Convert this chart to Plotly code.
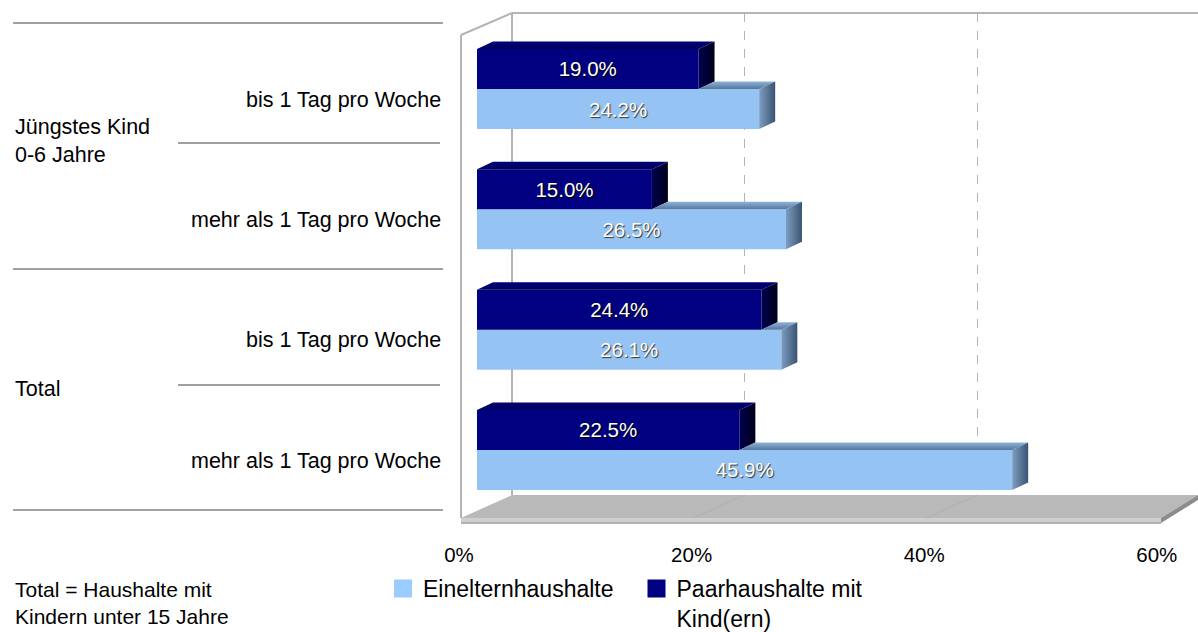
import plotly.graph_objects as go

# ---------------- data ----------------
groups = ["Jüngstes Kind<br>0-6 Jahre", "Total"]
group_members = [[0, 1], [2, 3]]
categories = ["bis 1 Tag pro Woche", "mehr als 1 Tag pro Woche",
              "bis 1 Tag pro Woche", "mehr als 1 Tag pro Woche"]
einelternhaushalte = [24.2, 26.5, 26.1, 45.9]
paarhaushalte = [19.0, 15.0, 24.4, 22.5]
series_names = ["Einelternhaushalte", "Paarhaushalte mit<br>Kind(ern)"]
tick_vals = [0, 20, 40, 60]
tick_text = ["0%", "20%", "40%", "60%"]
grid_vals = [20, 40]
footnote = "Total = Haushalte mit<br>Kindern unter 15 Jahre"

# ---------------- styling / geometry ----------------
W, H = 1198, 632
FONT = "Liberation Sans, Arial, sans-serif"
LIGHT = "#95c4f4"
DARK = "#000080"
PX_PER = 11.66          # px per percent on the front plane
ROW = 120.33            # px per category row


def fx(p):
    return p / W


def fy(p):
    return 1 - p / H


front_x0 = 477
bar_top_px = 89 - 0.5 * ROW
bar_bot_px = 89 + 3.5 * ROW
BW = 40 / ROW
DX = 16 / PX_PER
DY = 7.5 / ROW

ypos = list(range(len(categories)))
fig = go.Figure()

# subplot 1: back wall gridlines (drawn first, so it lies behind the bars)
fig.add_trace(go.Scatter(x=[None], y=[None], xaxis="x", yaxis="y",
                         showlegend=False, hoverinfo="skip"))
# subplot 3: tick labels on the floor edge
fig.add_trace(go.Scatter(x=[None], y=[None], xaxis="x3", yaxis="y3",
                         showlegend=False, hoverinfo="skip"))

# front faces of the bars
fig.add_trace(go.Bar(
    orientation="h", x=einelternhaushalte, y=ypos, base=0, width=BW, offset=0,
    marker=dict(color=LIGHT, line=dict(width=0)),
    text=[f"{v:.1f}%" for v in einelternhaushalte], textposition="inside",
    insidetextanchor="middle", textangle=0,
    textfont=dict(color="white", size=20.5, family=FONT, shadow="1px 1px 1px #333"),
    xaxis="x2", yaxis="y2", showlegend=False, name=series_names[0], hoverinfo="skip"))
fig.add_trace(go.Bar(
    orientation="h", x=paarhaushalte, y=ypos, base=0, width=BW, offset=-BW,
    marker=dict(color=DARK, line=dict(width=0)),
    text=[f"{v:.1f}%" for v in paarhaushalte], textposition="inside",
    insidetextanchor="middle", textangle=0,
    textfont=dict(color="white", size=20.5, family=FONT, shadow="1px 1px 1px #000"),
    xaxis="x2", yaxis="y2", showlegend=False, name=series_names[1], hoverinfo="skip"))


def face(xs, ys, grad_type, c0, c1):
    fig.add_trace(go.Scatter(
        x=xs + [xs[0]], y=ys + [ys[0]], mode="lines", fill="toself",
        line=dict(width=0), fillgradient=dict(type=grad_type, colorscale=[[0, c0], [1, c1]]),
        xaxis="x2", yaxis="y2", showlegend=False, hoverinfo="skip"))


for i, (l, d) in enumerate(zip(einelternhaushalte, paarhaushalte)):
    # dark bar (upper): top + side
    t = i - BW
    face([0, d, d + DX, DX], [t, t, t - DY, t - DY], "vertical", "#00005c", "#00007a")
    face([d, d + DX, d + DX, d], [t, t - DY, i - DY, i], "horizontal", "#000050", "#000018")
    # light bar (lower): visible top + side
    if l > d:
        face([d, l, l + DX, d + DX], [i, i, i - DY, i - DY], "vertical", "#56769a", "#8db3dc")
    face([l, l + DX, l + DX, l], [i, i - DY, i + BW - DY, i + BW], "horizontal", "#7d9dc2", "#3a5470")

# legend proxies
fig.add_trace(go.Scatter(x=[None], y=[None], mode="markers", name=series_names[0],
                         marker=dict(symbol="square", size=16, color="#99ccff",
                                     line=dict(color="#99ccff", width=2)),
                         xaxis="x2", yaxis="y2"))
fig.add_trace(go.Scatter(x=[None], y=[None], mode="markers", name=series_names[1],
                         marker=dict(symbol="square", size=16, color=DARK,
                                     line=dict(color=DARK, width=2)),
                         xaxis="x2", yaxis="y2"))

shapes = []
GRAYW = "#b4b4b4"
# floor
shapes.append(dict(type="path", xref="paper", yref="paper", layer="below",
                   path=f"M{fx(461)},{fy(518)} L{fx(512)},{fy(495)} L{fx(1198)},{fy(495)} L{fx(1161)},{fy(518)} Z",
                   fillcolor="#b9b9b9", line=dict(width=0)))
shapes.append(dict(type="path", xref="paper", yref="paper", layer="below",
                   path=f"M{fx(461)},{fy(518)} L{fx(1161)},{fy(518)} L{fx(1161)},{fy(523)} L{fx(461)},{fy(523)} Z",
                   fillcolor="#cfcfcf", line=dict(width=0)))
shapes.append(dict(type="line", xref="paper", yref="paper", layer="below",
                   x0=fx(461), x1=fx(1161), y0=fy(523), y1=fy(523),
                   line=dict(color="#a0a0a0", width=1.5)))
shapes.append(dict(type="path", xref="paper", yref="paper", layer="below",
                   path=f"M{fx(1161)},{fy(518)} L{fx(1198)},{fy(495)} L{fx(1198)},{fy(500)} L{fx(1161)},{fy(523)} Z",
                   fillcolor="#8c8c8c", line=dict(width=0)))
for k in range(1, 3):
    shapes.append(dict(type="line", xref="paper", yref="paper", layer="below",
                       x0=fx(512 + 232.6 * k), y0=fy(495), x1=fx(461 + 232.6 * k), y1=fy(518),
                       line=dict(color="#b0b0b0", width=1)))
# walls
for (x0, y0, x1, y1) in [(461, 35, 461, 518), (512, 13, 512, 495), (461, 35, 512, 13), (512, 13, 1198, 13)]:
    shapes.append(dict(type="line", xref="paper", yref="paper", layer="below",
                       x0=fx(x0), y0=fy(y0), x1=fx(x1), y1=fy(y1),
                       line=dict(color=GRAYW, width=2)))
# category separator lines
for (x0, x1, y) in [(13, 443, 23), (178, 440, 143), (13, 443, 269), (178, 440, 385), (13, 443, 510)]:
    shapes.append(dict(type="line", xref="paper", yref="paper",
                       x0=fx(x0), x1=fx(x1), y0=fy(y), y1=fy(y),
                       line=dict(color="#808080", width=1.5)))

annotations = []
for i, c in enumerate(categories):
    annotations.append(dict(text=c, xref="paper", yref="y2", x=fx(443), y=i + 0.09,
                            xanchor="right", yanchor="middle", showarrow=False,
                            font=dict(family=FONT, size=21.5, color="#000")))
group_shift = [-0.065, -0.005]
for g, members, s in zip(groups, group_members, group_shift):
    annotations.append(dict(text=g, xref="paper", yref="y2", x=fx(13),
                            y=sum(members) / len(members) + s, align="left",
                            xanchor="left", yanchor="middle", showarrow=False,
                            font=dict(family=FONT, size=21.5, color="#000")))
annotations.append(dict(text=footnote, xref="paper", yref="paper", x=fx(13), y=fy(576),
                        xanchor="left", yanchor="top", align="left", showarrow=False,
                        font=dict(family=FONT, size=21, color="#000")))

fig.update_layout(
    width=W, height=H, margin=dict(l=0, r=0, t=0, b=0, autoexpand=False),
    paper_bgcolor="white", plot_bgcolor="rgba(0,0,0,0)",
    barmode="overlay",
    font=dict(family=FONT, color="#000"),
    xaxis=dict(domain=[fx(512), 1], range=[0, (W - 512) / 11.63], tickvals=grid_vals,
               showgrid=True, gridcolor="#b4b4b4", griddash="dash", gridwidth=1,
               showticklabels=False, zeroline=False, showline=False, ticks=""),
    yaxis=dict(domain=[fy(495), fy(13)], visible=False, range=[0, 1]),
    xaxis2=dict(domain=[fx(front_x0), fx(front_x0 + 60 * PX_PER)], range=[0, 60],
                visible=False, anchor="y2"),
    yaxis2=dict(domain=[fy(bar_bot_px), fy(bar_top_px)], range=[3.5, -0.5],
                visible=False, anchor="x2"),
    xaxis3=dict(domain=[fx(459), fx(459 + 60 * 11.63)], range=[0, 60.0001], anchor="y3",
                tickvals=tick_vals, ticktext=tick_text, showgrid=False, zeroline=False,
                showline=False, ticks="", tickfont=dict(family=FONT, size=20.5, color="#000")),
    yaxis3=dict(domain=[fy(540), fy(535)], visible=False, anchor="x3", range=[0, 1]),
    shapes=shapes, annotations=annotations,
    legend=dict(orientation="h", x=fx(383), y=fy(567), xanchor="left", yanchor="top",
                valign="top", entrywidth=208.5, entrywidthmode="pixels",
                font=dict(family=FONT, size=23, color="#000"),
                bgcolor="rgba(0,0,0,0)", itemclick=False),
    showlegend=True,
)

fig.write_html("out.html", config={"displayModeBar": False},
               post_script="document.body.style.margin='0';document.body.style.overflow='hidden';")
